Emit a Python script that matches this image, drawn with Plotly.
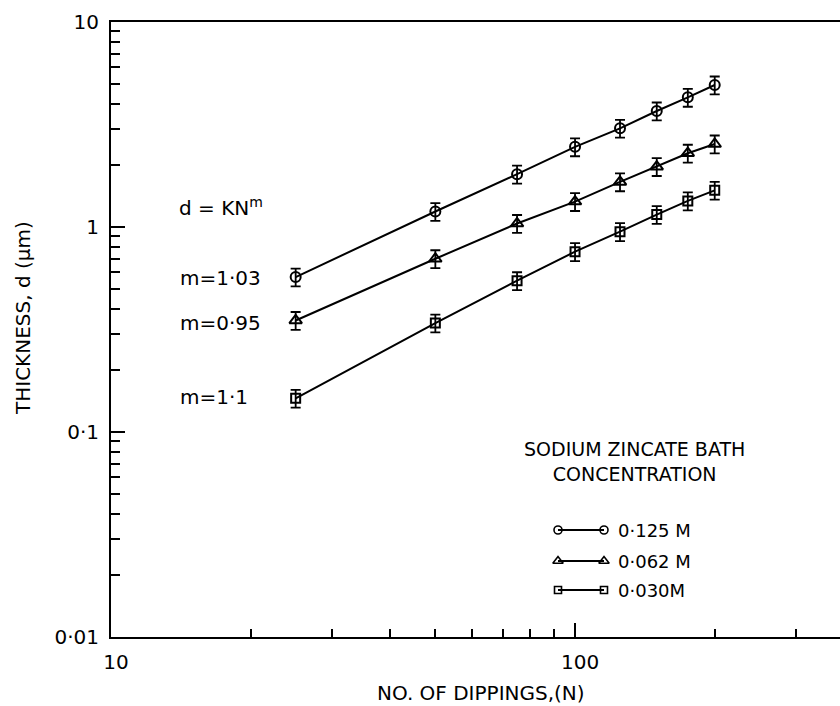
import plotly.graph_objects as go

# ---- data ----
dippings = [25, 50, 75, 100, 125, 150, 175, 200]
thick_0125 = [0.57, 1.19, 1.81, 2.46, 3.03, 3.68, 4.29, 4.93]
thick_0062 = [0.35, 0.70, 1.04, 1.33, 1.66, 1.97, 2.29, 2.54]
thick_0030 = [0.146, 0.34, 0.547, 0.758, 0.949, 1.15, 1.34, 1.51]
err_pct = 10

series_names = ["0·125 M", "0·062 M", "0·030M"]
series_symbols = ["circle-open", "triangle-up-open", "square-open"]
series_sizes = [10, 11, 9]
slope_labels = ["m=1·03", "m=0·95", "m=1·1"]

x_tickvals = [10, 100]
x_ticktext = ["10", "100"]
x_minor = [20, 30, 40, 50, 60, 70, 80, 90, 200, 300]
y_tickvals = [0.01, 0.1, 1, 10]
y_ticktext = ["0·01", "0·1", "1", "10"]
y_minor = [m * 10 ** e for e in (-2, -1, 0) for m in range(2, 10)]

FONT = "DejaVu Sans"
L, T, W, H = 111, 22, 729, 615


def px(xp, yp):
    return (xp - L) / W, 1 - (yp - T) / H


fig = go.Figure()

all_series = [thick_0125, thick_0062, thick_0030]
for vals, sym, sz, nm in zip(all_series, series_symbols, series_sizes, series_names):
    fig.add_trace(go.Scatter(
        x=dippings, y=vals, mode="lines+markers", name=nm, showlegend=False,
        line=dict(color="black", width=2),
        marker=dict(symbol=sym, size=sz, color="black", line=dict(width=2, color="black")),
        error_y=dict(type="percent", value=err_pct, color="black", thickness=1.8, width=5),
    ))

# legend samples on an overlay paper-like axis
leg_rows_px = [530, 561, 590]
for ypx, sym, sz, nm in zip(leg_rows_px, series_symbols, series_sizes, series_names):
    x0, ly = px(558, ypx)
    x1, _ = px(604, ypx)
    xt, _ = px(616, ypx)
    fig.add_trace(go.Scatter(
        x=[x0, x1], y=[ly, ly], xaxis="x2", yaxis="y2", mode="lines+markers",
        showlegend=False, hoverinfo="skip",
        line=dict(color="black", width=2),
        marker=dict(symbol=sym, size=sz - 2, color="black", line=dict(width=1.6, color="black")),
    ))
    fig.add_annotation(xref="x2", yref="y2", x=xt, y=ly, text=nm, showarrow=False,
                       xanchor="left", yanchor="middle",
                       font=dict(family=FONT, size=18, color="black"))

tx, ty = px(634, 461)
fig.add_annotation(xref="paper", yref="paper", x=tx, y=ty,
                   text="SODIUM ZINCATE BATH<br>CONCENTRATION", showarrow=False,
                   xanchor="center", yanchor="middle", align="center",
                   font=dict(family=FONT, size=19, color="black"))

# equation and slope labels
ex, ey = px(177, 207)
fig.add_annotation(xref="paper", yref="paper", x=ex, y=ey, text="d = KN<sup>m</sup>",
                   showarrow=False, xanchor="left", yanchor="middle",
                   font=dict(family=FONT, size=20, color="black"))
for lbl, ypx in zip(slope_labels, [278, 323, 397]):
    ax_, ay_ = px(178, ypx)
    fig.add_annotation(xref="paper", yref="paper", x=ax_, y=ay_,
                       text=lbl, showarrow=False, xanchor="left", yanchor="middle",
                       font=dict(family=FONT, size=20, color="black"))

# axis titles
tx, ty = px(481, 693)
fig.add_annotation(xref="paper", yref="paper", x=tx, y=ty,
                   text="NO. OF DIPPINGS,(N)", showarrow=False, xanchor="center", yanchor="middle",
                   font=dict(family=FONT, size=20, color="black"))
tx, ty = px(23, 318)
fig.add_annotation(xref="paper", yref="paper", x=tx, y=ty,
                   text="THICKNESS, d (μm)", showarrow=False, textangle=-90,
                   xanchor="center", yanchor="middle",
                   font=dict(family=FONT, size=20, color="black"))

fig.update_layout(
    width=840, height=706,
    margin=dict(l=L, r=0, t=T, b=706 - T - H),
    paper_bgcolor="white", plot_bgcolor="white",
    showlegend=False,
    font=dict(family=FONT, size=20, color="black"),
    xaxis=dict(
        type="log", range=[1, 2.571], showgrid=False, zeroline=False,
        showline=True, linecolor="black", linewidth=2, mirror=True,
        ticks="inside", ticklen=14, tickwidth=1.6, tickcolor="black",
        tickmode="array", tickvals=x_tickvals, ticktext=x_ticktext,
        ticklabelstandoff=6, ticklabelshift=5,
        tickfont=dict(family=FONT, size=20, color="black"),
        minor=dict(tickmode="array", tickvals=x_minor, ticks="inside", ticklen=8,
                   tickwidth=1.6, tickcolor="black", showgrid=False),
    ),
    yaxis=dict(
        type="log", range=[-2, 1], showgrid=False, zeroline=False,
        showline=True, linecolor="black", linewidth=2, mirror=False,
        ticks="inside", ticklen=14, tickwidth=1.6, tickcolor="black",
        tickmode="array", tickvals=y_tickvals, ticktext=y_ticktext,
        ticklabelstandoff=6,
        tickfont=dict(family=FONT, size=20, color="black"),
        minor=dict(tickmode="array", tickvals=y_minor, ticks="inside", ticklen=9,
                   tickwidth=1.6, tickcolor="black", showgrid=False),
    ),
    xaxis2=dict(overlaying="x", range=[0, 1], visible=False, fixedrange=True),
    yaxis2=dict(overlaying="y", range=[0, 1], visible=False, fixedrange=True),
)

fig.write_html("out.html", config={"displayModeBar": False},
               post_script="document.body.style.margin='0px';")
